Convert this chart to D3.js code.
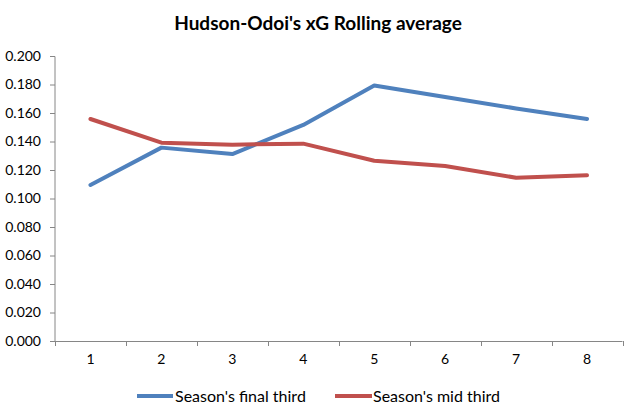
<!DOCTYPE html>
<html>
<head>
<meta charset="utf-8">
<script src="https://cdn.jsdelivr.net/npm/d3@7"></script>
<style>
  html, body { margin: 0; padding: 0; background: #fff; }
  svg { display: block; }
  text { font-family: Lato, "Open Sans", sans-serif; fill: #000; }
</style>
</head>
<body>
<svg id="chart" width="627" height="418"></svg>
<script>
const categories = ["1", "2", "3", "4", "5", "6", "7", "8"];
const finalThird = [0.1095, 0.1357, 0.1312, 0.1516, 0.1793, 0.1712, 0.1632, 0.1558];
const midThird = [0.1558, 0.1392, 0.1378, 0.1385, 0.1265, 0.1228, 0.1146, 0.1163];
const seriesNames = ["Season's final third", "Season's mid third"];
const seriesColors = ["#4F81BD", "#C0504D"];
const yTicks = [0, 0.02, 0.04, 0.06, 0.08, 0.1, 0.12, 0.14, 0.16, 0.18, 0.2];
const title = "Hudson-Odoi's xG Rolling average";

const svg = d3.select("#chart");

const x = d3.scaleBand().domain(categories).range([55, 622.5]);
const y = d3.scaleLinear().domain([0, 0.2]).range([341, 56]);

// Title
svg.append("text")
  .attr("x", 318).attr("y", 30)
  .attr("text-anchor", "middle")
  .style("font-size", "19px").style("font-weight", "bold")
  .text(title);

const axisColor = "#868686";

// Y axis
const yAxis = svg.append("g")
  .attr("transform", "translate(55,0)")
  .call(d3.axisLeft(y).tickValues(yTicks).tickFormat(d3.format(".3f")).tickSize(5).tickPadding(9));
yAxis.select(".domain").attr("stroke", axisColor).attr("d", "M0,56.5V341");
yAxis.selectAll(".tick line").attr("stroke", axisColor);
yAxis.selectAll(".tick text").style("font-size", "14px").style("font-family", "Lato, sans-serif").attr("fill", "#000");

// X axis
const xAxis = svg.append("g")
  .attr("transform", "translate(0,341)")
  .call(d3.axisBottom(x).tickSize(0).tickPadding(13));
xAxis.select(".domain").attr("stroke", axisColor).attr("d", "M55,0.5H622.5");
xAxis.selectAll(".tick text").style("font-size", "14px").style("font-family", "Lato, sans-serif").attr("fill", "#000");
// boundary tick marks
const bounds = categories.map(c => x(c)).concat([x.range()[1]]);
xAxis.selectAll(".bound").data(bounds).enter().append("line")
  .attr("class", "bound")
  .attr("x1", d => Math.round(d) + 0.5).attr("x2", d => Math.round(d) + 0.5)
  .attr("y1", 0).attr("y2", 5)
  .attr("stroke", axisColor);

// Lines
const line = d3.line()
  .x((d, i) => x(categories[i]) + x.bandwidth() / 2)
  .y(d => y(d));

[finalThird, midThird].forEach((s, k) => {
  svg.append("path")
    .datum(s)
    .attr("d", line)
    .attr("fill", "none")
    .attr("stroke", seriesColors[k])
    .attr("stroke-width", 4)
    .attr("stroke-linejoin", "round")
    .attr("stroke-linecap", "round");
});

// Legend
const legendItems = [
  { x1: 137, x2: 173, tx: 175 },
  { x1: 335, x2: 372, tx: 373 }
];
legendItems.forEach((it, k) => {
  svg.append("line")
    .attr("x1", it.x1).attr("x2", it.x2)
    .attr("y1", 396).attr("y2", 396)
    .attr("stroke", seriesColors[k]).attr("stroke-width", 4);
  svg.append("text")
    .attr("x", it.tx).attr("y", 402)
    .style("font-size", "16px")
    .text(seriesNames[k]);
});
</script>
</body>
</html>
